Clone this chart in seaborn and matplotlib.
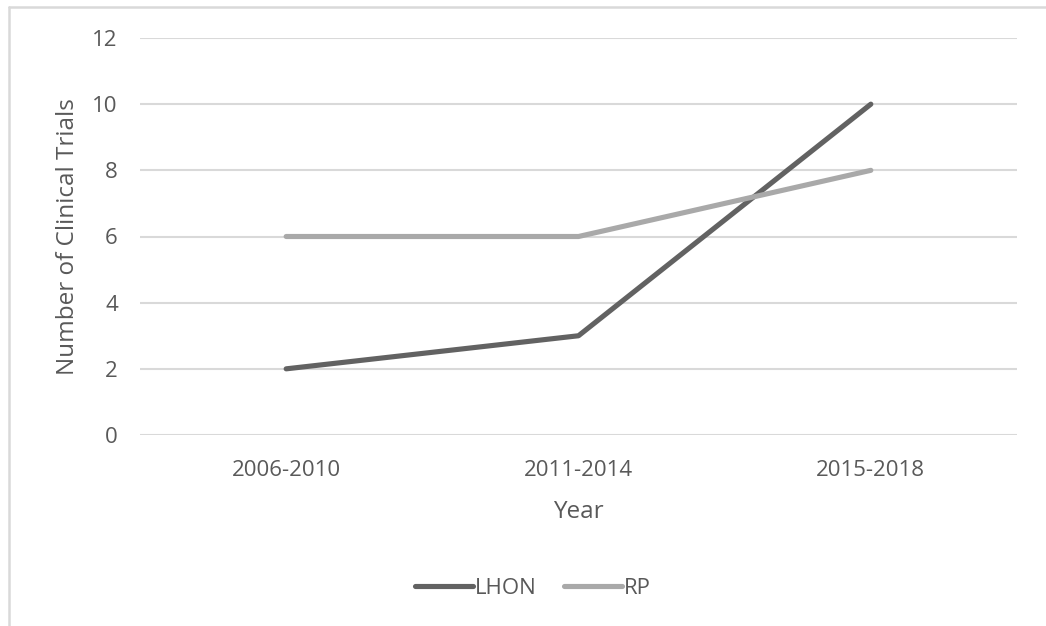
import matplotlib
matplotlib.use("Agg")
import matplotlib.pyplot as plt
from matplotlib.lines import Line2D
import seaborn as sns
import pandas as pd

periods = ["2006-2010", "2011-2014", "2015-2018"]
lhon_trials = [2, 3, 10]
rp_trials = [6, 6, 8]
y_ticks = [0, 2, 4, 6, 8, 10, 12]

df = pd.DataFrame({
    "Year": periods * 2,
    "Trials": lhon_trials + rp_trials,
    "Disease": ["LHON"] * 3 + ["RP"] * 3,
})

sns.set_theme(style="white")
plt.rcParams["font.family"] = ["Open Sans", "DejaVu Sans"]
text_color = "#595959"
grid_color = "#d9d9d9"

fig = plt.figure(figsize=(10.46, 6.26), dpi=100)
ax = fig.add_axes([140 / 1046, 1 - 435 / 626, 877 / 1046, 397 / 626])

palette = {"LHON": "#626262", "RP": "#a9a9a9"}
sns.lineplot(data=df, x="Year", y="Trials", hue="Disease", palette=palette,
             linewidth=3.7, sort=False, ax=ax, legend=False,
             solid_capstyle="round")

ax.set_xlim(-0.5, 2.5)
ax.set_ylim(0, 12)
ax.set_yticks(y_ticks)
ax.yaxis.grid(True, color=grid_color, linewidth=1.5)
ax.set_axisbelow(True)
for s in ax.spines.values():
    s.set_visible(False)
ax.tick_params(axis="both", length=0, colors=text_color, labelsize=16)
ax.tick_params(axis="y", pad=16)
ax.tick_params(axis="x", pad=18)
ax.set_xlabel("Year", color=text_color, fontsize=17.5, labelpad=14)
ax.set_ylabel("Number of Clinical Trials", color=text_color, fontsize=17.5, labelpad=9)

handles = [Line2D([0], [0], color=palette[k], linewidth=3.7, solid_capstyle="round")
           for k in ["LHON", "RP"]]
leg = fig.legend(handles, ["LHON", "RP"], loc="center", bbox_to_anchor=(533 / 1046, 1 - 588 / 626),
                 ncol=2, frameon=False, fontsize=16, handlelength=2.6,
                 handletextpad=0.1, columnspacing=1.2)
for t in leg.get_texts():
    t.set_color(text_color)

# outer chart frame
fig.add_artist(Line2D([9 / 1046, 9 / 1046], [0, 1 - 7 / 626], color=grid_color, linewidth=1.8))
fig.add_artist(Line2D([9 / 1046, 1], [1 - 7 / 626, 1 - 7 / 626], color=grid_color, linewidth=1.8))

fig.savefig("out.png", dpi=100, facecolor="white")
